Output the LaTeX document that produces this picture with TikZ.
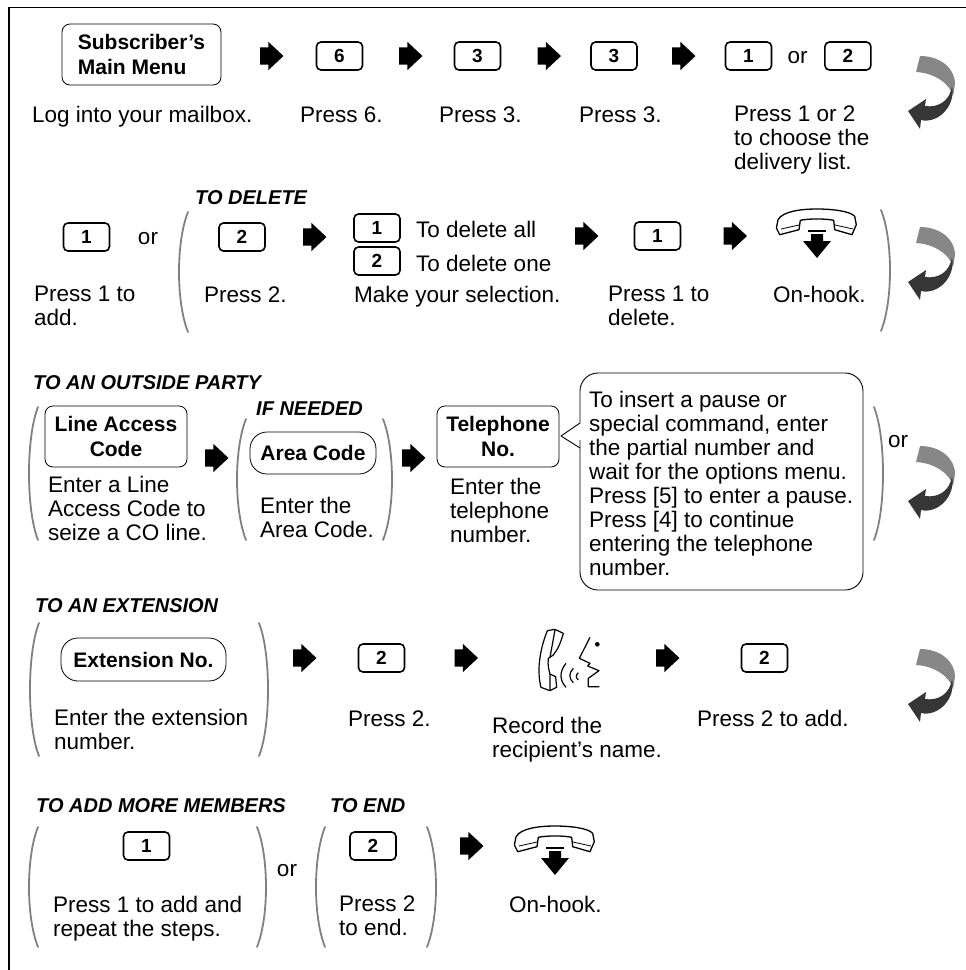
\documentclass[tikz,border=0pt]{standalone}
\usepackage{fontspec}
\setmainfont{Liberation Sans}
\usetikzlibrary{shapes.arrows,positioning}
\definecolor{bracegray}{gray}{0.5}
\definecolor{turnlight}{gray}{0.53}
\definecolor{turndark}{gray}{0.21}
\newcommand{\bodyfont}{\fontsize{22.5}{24}\selectfont}
\newcommand{\boldfont}{\fontsize{21}{25}\selectfont\bfseries}
\newcommand{\openbrace}[3]{\draw[brace] (#1+9,#2) .. controls (#1-3,#2+30) and (#1-3,#3-30) .. (#1+9,#3);}
\newcommand{\closebrace}[3]{\draw[brace] (#1-9,#2) .. controls (#1+3,#2+30) and (#1+3,#3-30) .. (#1-9,#3);}
\tikzset{
  flowarrow/.style={single arrow, fill=black, inner sep=0pt, outer sep=0pt, text height=17pt, text depth=0pt,
    minimum height=23.5pt, single arrow head extend=5.5pt, single arrow tip angle=86, anchor=west},
  keybox/.style={draw, line width=1.6pt, rounded corners=4.5pt, inner sep=0pt, outer sep=0pt, minimum width=46pt,
    minimum height=28pt, font=\fontsize{19}{19}\selectfont\bfseries},
  menubox/.style={draw, line width=.8pt, rounded corners=8pt, inner sep=0pt, outer sep=0pt, align=center, font=\boldfont},
  areabox/.style={menubox, rounded corners=17pt},
  caption/.style={anchor=north west, yshift=9.4pt, inner sep=0pt, align=left, font=\bodyfont, execute at begin node=\strut},
  steptitle/.style={anchor=west, inner sep=0pt, font=\fontsize{20}{20}\selectfont\bfseries\itshape},
  orlabel/.style={inner sep=0pt, yshift=-2pt, font=\bodyfont},
  brace/.style={draw=bracegray, line width=1.8pt, line cap=round},
  onhook/.pic={
    \draw[line width=1.3pt, line join=round] (-39,10.7) .. controls (-34,2) and (-15,0) .. (0,0)
      .. controls (15,0) and (33,2) .. (37.7,7.3) -- (39.3,15.7) -- (35,25.7) -- (17.7,20.7)
      -- (16.7,11.3) .. controls (8,9.5) and (-8,9.5) .. (-16.7,11.3) -- (-18,20.7) -- (-37.3,25.7)
      -- (-40.6,19) -- cycle;
    \draw[line width=.8pt] (-36,20) -- (-18,16) (36,20) -- (18,16);
    \fill (-9,20.7) rectangle (9,23.3);
    \fill (-6,25) -- (6,25) -- (6,32) -- (14,32) -- (0,49) -- (-14,32) -- (-6,32) -- cycle;
  },
  recordvoice/.pic={
    \begin{scope}[x=.3333pt, y=-.3333pt, line width=1.2pt, line join=round]
      \draw (322,92) -- (345,88) -- (370,100) .. controls (362,130) and (352,150) .. (340,165) -- (325,175)
        .. controls (322,195) and (328,215) .. (330,222) -- (347,230) -- (350,262) -- (330,272) -- (303,262)
        .. controls (292,220) and (295,160) .. (322,92);
      \draw (345,90) -- (330,172) (330,222) -- (330,270);
      \draw (378,190) .. controls (358,215) and (358,240) .. (378,262);
      \draw (400,205) .. controls (386,220) and (386,235) .. (400,248);
      \draw (415,218) .. controls (407,225) and (407,233) .. (415,240);
      \draw (450,112) -- (418,175) -- (450,190) -- (443,198) -- (477,212) -- (445,235) -- (445,260) -- (478,260);
      \fill (472,133) circle (7);
    \end{scope}
  },
  turnover/.pic={
    \fill[turnlight] (-4,16) -- (0,0) .. controls (20,0) and (35,12) .. (35,28) -- (33,40)
      .. controls (30,28) and (15,17) .. (-4,16) -- cycle;
    \fill[turndark] (32,30) .. controls (36,50) and (18,68) .. (1,64) -- (0,73) -- (-12,55) -- (6,43) -- (5,50)
      .. controls (18,52) and (30,45) .. (32,30) -- cycle;
  },
}
\begin{document}
\begin{tikzpicture}[x=1pt, y=-1pt]
  \useasboundingbox (0,0) rectangle (966,970);
  \draw[line width=1.1pt] (9,970) -- (9,7.5) -- (966,7.5);

  % first row
  \node[menubox, align=left, minimum width=159pt, minimum height=61pt] (mainmenu) at (141.5,54.5) {Subscriber’s\\Main Menu};
  \node[flowarrow] (goa) at (260,56) {};
  \node[keybox] (keysix) [right=33pt of goa] {6};
  \node[flowarrow] (gob) [right=36.5pt of keysix] {};
  \node[keybox] (keythree) [right=32pt of gob] {3};
  \node[flowarrow] (goc) [right=37pt of keythree] {};
  \node[keybox] (keythreeb) [right=30pt of goc] {3};
  \node[flowarrow] (god) [right=35pt of keythreeb] {};
  \node[keybox] (keyone) [right=30pt of god] {1};
  \node[orlabel] (orfirst) [right=16pt of keyone] {or};
  \node[keybox] (keytwo) [right=17pt of orfirst.east |- keyone.center, anchor=west] {2};
  \pic (turna) at (920,56) {turnover};
  \node[caption] (logtext) at (32,115) {Log into your mailbox.};
  \node[caption] (sixtext) at (300,115) {Press 6.};
  \node[caption] (threetext) at (439,115) {Press 3.};
  \node[caption] (threetextb) at (579,115) {Press 3.};
  \node[caption] (listtext) at (734,115) {Press 1 or 2\\to choose the\\delivery list.};

  % second row
  \node[steptitle] (deltitle) at (195,198) {TO DELETE};
  \node[keybox] (addkey) at (86.5,237) {1};
  \node[orlabel] (orsecond) at (148,237) {or};
  \openbrace{179}{212}{332}
  \node[keybox] (delkey) at (242,237) {2};
  \node[flowarrow] (goe) [right=38pt of delkey] {};
  \node[keybox] (allkey) at (377,228) {1};
  \node[keybox] (onekey) at (377,261) {2};
  \node[caption] (alltext) at (416,230) {To delete all};
  \node[caption] (onetext) at (416,264) {To delete one};
  \node[flowarrow] (gof) at (575,236) {};
  \node[keybox] (confirmkey) [right=36pt of gof] {1};
  \node[flowarrow] (gog) [right=43pt of confirmkey] {};
  \pic (hooka) at (817,209) {onhook};
  \closebrace{890}{210}{331}
  \pic (turnb) at (920,227) {turnover};
  \node[caption] (addtext) at (34,295) {Press 1 to\\add.};
  \node[caption] (deltext) at (204,295) {Press 2.};
  \node[caption] (seltext) at (354,295) {Make your selection.};
  \node[caption] (confirmtext) at (608,295) {Press 1 to\\delete.};
  \node[caption] (hooktext) at (773,295) {On-hook.};

  % third row
  \node[steptitle] (outtitle) at (33,383) {TO AN OUTSIDE PARTY};
  \openbrace{29}{407}{540}
  \node[menubox, minimum width=142pt, minimum height=61pt] (accessbox) at (116,436.5) {Line Access\\Code};
  \node[flowarrow] (goh) at (205,458) {};
  \node[flowarrow] (goi) at (402,458) {};
  \node[steptitle] (iftitle) at (256,409) {IF NEEDED};
  \openbrace{237}{419}{540}
  \node[areabox, minimum width=126pt, minimum height=42pt] (areacode) at (313,453) {Area Code};
  \closebrace{392}{419}{540}
  \node[menubox, minimum width=122pt, minimum height=61pt] (phonebox) at (498,436.5) {Telephone\\No.};
  \draw[line width=.9pt, rounded corners=18pt] (580,423) -- (580,373) -- (863,373) -- (863,590) -- (580,590) -- (580,440);
  \draw[line width=.9pt, line join=round] (580,423) -- (561,436) -- (580,448);
  \node[caption] (accesstext) at (48,485) {Enter a Line\\Access Code to\\seize a CO line.};
  \node[caption] (areatext) at (260,506) {Enter the\\Area Code.};
  \node[caption] (phonetext) at (450,487) {Enter the\\telephone\\number.};
  \node[caption] (pausetext) at (589,400) {To insert a pause or\\special command, enter\\the partial number and\\wait for the options menu.\\Press [5] to enter a pause.\\Press [4] to continue\\entering the telephone\\number.};
  \closebrace{883}{407}{540}
  \node[orlabel] (orthird) at (898,440) {or};
  \pic (turnc) at (920,446) {turnover};

  % fourth row
  \node[steptitle] (exttitle) at (35,606) {TO AN EXTENSION};
  \openbrace{30}{623}{756}
  \node[areabox, minimum width=165pt, minimum height=43pt] (extbox) at (143.5,659.5) {Extension No.};
  \closebrace{268}{623}{756}
  \node[flowarrow] (goj) at (293,658) {};
  \node[keybox] (recordkey) [right=42pt of goj] {2};
  \node[flowarrow] (gok) [right=50pt of recordkey] {};
  \pic (voice) at (440,600) {recordvoice};
  \node[flowarrow] (gol) at (656,658) {};
  \node[keybox] (savekey) [right=62pt of gol] {2};
  \pic (turnd) at (920,649) {turnover};
  \node[caption] (exttext) at (54,718) {Enter the extension\\number.};
  \node[caption] (recpress) at (348,719) {Press 2.};
  \node[caption] (recordtext) at (492,726) {Record the\\recipient’s name.};
  \node[caption] (savetext) at (697,719) {Press 2 to add.};

  % last row
  \node[steptitle] (moretitle) at (36,806) {TO ADD MORE MEMBERS};
  \node[steptitle] (endtitle) at (330,806) {TO END};
  \openbrace{29}{827}{947}
  \node[keybox] (morekey) at (146.5,846) {1};
  \closebrace{266}{827}{947}
  \node[orlabel] (orlast) at (287,869) {or};
  \openbrace{316}{827}{947}
  \node[keybox] (endkey) at (373,846) {2};
  \closebrace{436}{827}{947}
  \node[flowarrow] (gom) at (460,846) {};
  \pic (hookb) at (555,826) {onhook};
  \node[caption] (moretext) at (53,905) {Press 1 to add and\\repeat the steps.};
  \node[caption] (endtext) at (339,905) {Press 2\\to end.};
  \node[caption] (hookbtext) at (509,905) {On-hook.};
\end{tikzpicture}
\end{document}
